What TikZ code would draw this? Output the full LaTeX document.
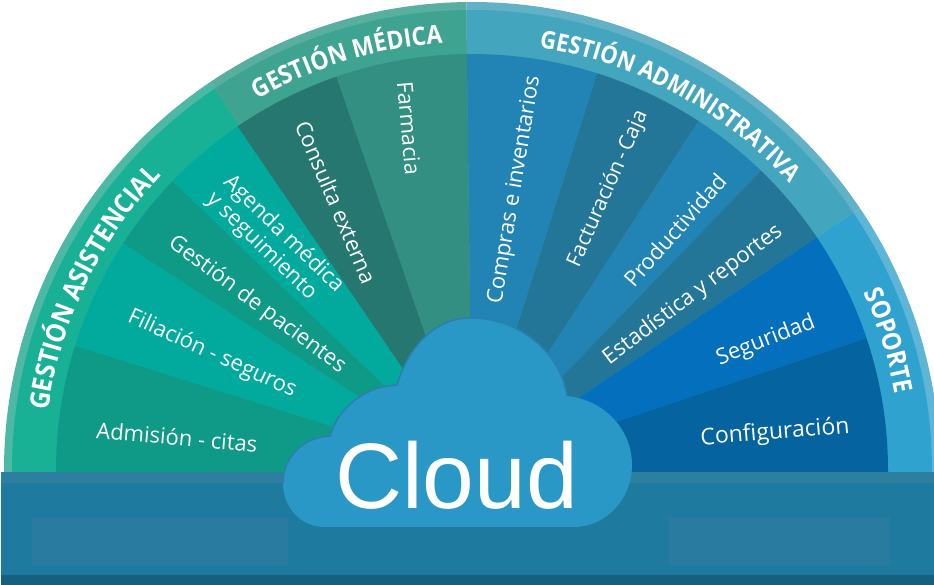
\documentclass[tikz,border=0pt]{standalone}
\usepackage{fontspec}
\setmainfont{Open Sans}
\newfontfamily\cloudfont{Liberation Sans}
\newfontfamily\bandfont[FakeStretch=0.9]{Open Sans}
\usetikzlibrary{decorations.text}
\definecolor{AsistRim}{HTML}{4DB8A4}
\definecolor{AsistBand}{HTML}{19B196}
\definecolor{MedRim}{HTML}{58AE9F}
\definecolor{MedBand}{HTML}{3FA391}
\definecolor{AdmRim}{HTML}{62B1C6}
\definecolor{AdmBand}{HTML}{43A5BE}
\definecolor{SopRim}{HTML}{5FB5D5}
\definecolor{SopBand}{HTML}{2FA2CF}
\definecolor{AsistDark}{HTML}{0F9A87}
\definecolor{AsistLight}{HTML}{02AA9D}
\definecolor{MedDark}{HTML}{277771}
\definecolor{MedLight}{HTML}{338F81}
\definecolor{AdmLight}{HTML}{2184B4}
\definecolor{AdmDark}{HTML}{237698}
\definecolor{SopLight}{HTML}{0470BD}
\definecolor{SopDark}{HTML}{05649F}
\definecolor{BaseTop}{HTML}{2C7F9F}
\definecolor{BaseMain}{HTML}{1E7A9F}
\definecolor{BasePanel}{HTML}{2A7BA0}
\definecolor{BaseFoot}{HTML}{15607F}
\definecolor{CloudFill}{HTML}{2A98C7}
\definecolor{CloudEdge}{HTML}{2A7FAE}

\begin{document}
\begin{tikzpicture}[x=1pt,y=1pt]
        \tikzset{
            sectorlabel/.style={text=white,font=\fontsize{22}{24}\selectfont,inner sep=0pt},
            bandlabel/.style 2 args={decorate,decoration={text along path,text color=white,
                text align=center,
                text={|\fontsize{#1}{#1}\bandfont\bfseries|#2}}}
        }
        \newcommand{\RingPiece}[4]{% colour, from angle, to angle, radius
            \fill[#1] (0,0) -- (#2:#4) arc[start angle=#2,end angle=#3,radius=#4] -- cycle;
        }

        \useasboundingbox (0,0) rectangle (934,585);
        \clip (0,0) rectangle (934,585);

        \begin{scope}[shift={(472,115)}]
            % rim and titled band
            \foreach \from/\to/\rim/\band in {124/182/AsistRim/AsistBand,90.7/124/MedRim/MedBand,34/90.7/AdmRim/AdmBand,-2/34/SopRim/SopBand} {
                \RingPiece{\rim}{\from}{\to}{468}
                \RingPiece{\band}{\from}{\to}{460}
            }
            % one wedge per module
            \foreach \from/\to/\shade in {162.6/182/AsistDark,147/162.6/AsistLight,136/147/AsistDark,124.3/136/AsistLight,109/124.3/MedDark,90.7/109/MedLight,72.5/90.7/AdmLight,57/72.5/AdmDark,46/57/AdmLight,34/46/AdmDark,18.5/34/SopLight,-2/18.5/SopDark} {
                \RingPiece{\shade}{\from}{\to}{416}
            }
            \path[bandlabel={27}{GESTIÓN ASISTENCIAL}] (178.5:428) arc[start angle=178.5,end angle=130,radius=428];
            \path[bandlabel={25.5}{GESTIÓN MÉDICA}] (125:428) arc[start angle=125,end angle=89,radius=428];
            \path[bandlabel={24.5}{GESTIÓN ADMINISTRATIVA}] (88:428) arc[start angle=88,end angle=35,radius=428];
            \path[bandlabel={26}{SOPORTE}] (31.3:430) arc[start angle=31.3,end angle=3.1,radius=430];
        \end{scope}

        % base
        \fill[white] (0,0) rectangle (1,113);
        \fill[BaseMain] (1,10) rectangle (934,113);
        \fill[BaseTop] (1,102) rectangle (934,113);
        \fill[BaseFoot] (1,0) rectangle (934,10);
        \fill[BasePanel] (32,20) rectangle (288,68);
        \fill[BasePanel] (669,20) rectangle (890,68);

        \node[sectorlabel,rotate=-4.9] (admision) at (177,148) {Admisión - citas};
        \node[sectorlabel,rotate=-24.5] (filiacion) at (212,231) {Filiación - seguros};
        \node[sectorlabel,rotate=-36.5] (pacientes) at (257,280) {Gestión de pacientes};
        \node[sectorlabel,rotate=-44,align=left] (agenda) at (275,342) {Agenda médica\\y seguimiento};
        \node[sectorlabel,rotate=-67] (consulta) at (336,383) {Consulta externa};
        \node[sectorlabel,rotate=-85] (farmacia) at (409,457) {Farmacia};
        \node[sectorlabel,rotate=80.5] (compras) at (515,395) {Compras e inventarios};
        \node[sectorlabel,rotate=66,font=\fontsize{21}{23}\selectfont] (facturacion) at (608,396) {Facturación\hspace{0.15em}-\hspace{0.15em}Caja};
        \node[sectorlabel,rotate=48.5] (productividad) at (675,355) {Productividad};
        \node[sectorlabel,rotate=37] (estadistica) at (693,290) {Estadística y reportes};
        \node[sectorlabel,rotate=21.2] (seguridad) at (766,244) {Seguridad};
        \node[sectorlabel,rotate=4.7,font=\fontsize{23}{25}\selectfont] (configuracion) at (775,152) {Configuración};

        % cloud
        \fill[CloudFill] (325,58)
            .. controls (300,58) and (283,78) .. (283,102)
            .. controls (283,127) and (303,148) .. (330,149)
            .. controls (338,177) and (365,199) .. (397,200)
            .. controls (408,238) and (435,267) .. (470,267)
            .. controls (520,267) and (560,233) .. (567,189)
            .. controls (605,185) and (632,155) .. (632,120)
            .. controls (632,85) and (605,58) .. (574,58) -- cycle;
        \draw[CloudEdge,line width=1.5pt] (283,102)
            .. controls (283,127) and (303,148) .. (330,149)
            .. controls (338,177) and (365,199) .. (397,200)
            .. controls (408,238) and (435,267) .. (470,267)
            .. controls (520,267) and (560,233) .. (567,189);
        \node[text=white,font=\cloudfont\fontsize{93}{93}\selectfont,inner sep=0pt] (cloud) at (456.5,110) {Cloud};
    \end{tikzpicture}
\end{document}
